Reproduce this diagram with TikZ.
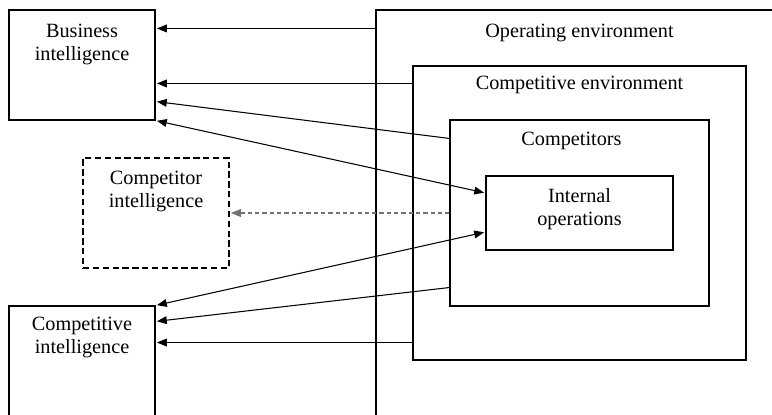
\documentclass[tikz,border=0pt]{standalone}
\usepackage{fontspec}
\setmainfont{Liberation Serif}
\usetikzlibrary{arrows.meta, positioning}

\begin{document}
\begin{tikzpicture}[
    every node/.style={font=\fontsize{14.4}{16.5}\selectfont},
    box/.style={draw,line width=0.75pt,inner sep=0pt},
    dbox/.style={box,dash pattern=on 4.5pt off 2.5pt},
    txt/.style={align=center,inner sep=0pt},
    arrow/.style={-{Triangle[length=7pt,width=5.5pt]}, line width=0.75pt, shorten >=1pt},
    darrow/.style={{Triangle[length=7pt,width=5.5pt]}-{Triangle[length=7pt,width=5.5pt]}, line width=0.75pt, shorten >=1pt, shorten <=1pt},
    dasharrow/.style={arrow, draw=black!55, dash pattern=on 3pt off 2.2pt}
]
\clip (0,0) rectangle (19.3,-10.375);
\node[box,minimum width=10.175cm,minimum height=10.75cm] (openv) at (14.4875,-5.625) {};
\node[box,minimum width=8.325cm,minimum height=7.35cm] (compenv) at (14.4875,-5.325) {};
\node[box,minimum width=6.475cm,minimum height=4.65cm] (comps) at (14.4875,-5.325) {};
\node[box,minimum width=4.675cm,minimum height=1.85cm] (intops) at (14.4875,-5.325) {};
\node[box,minimum width=3.65cm,minimum height=2.75cm] (bi) at (2.05,-1.625) {};
\node[dbox,minimum width=3.65cm,minimum height=2.75cm] (compi) at (3.9,-5.325) {};
\node[box,minimum width=3.65cm,minimum height=3.2cm] (ci) at (2.05,-9.25) {};
\node[txt, below=3.6mm of openv.north] (openvtxt) {Operating environment};
\node[txt, below=2.7mm of compenv.north] (compenvtxt) {Competitive environment};
\node[txt, below=3.2mm of comps.north, xshift=-2mm] (compstxt) {Competitors};
\node[txt, below=3.2mm of intops.north] (intopstxt) {Internal\\operations};
\node[txt, below=3.6mm of bi.north] (bitxt) {Business\\intelligence};
\node[txt, below=3.4mm of compi.north] (compitxt) {Competitor\\intelligence};
\node[txt, below=2.9mm of ci.north] (citxt) {Competitive\\intelligence};
\draw[arrow] ([yshift=-4.75mm]openv.north west) coordinate (a1) -- (a1 -| bi.east);
\draw[arrow] ([yshift=-4.5mm]compenv.north west) coordinate (a2) -- (a2 -| bi.east);
\draw[arrow] ([yshift=-4.75mm]comps.north west) -- ([yshift=-2.3cm]bi.north east);
\draw[darrow] (bi.south east) -- ([yshift=5mm]intops.west);
\draw[dasharrow] (comps.west) -- (compi.east);
\draw[darrow] (ci.north east) -- ([yshift=-4.75mm]intops.west);
\draw[arrow] ([yshift=4.75mm]comps.south west) -- ([yshift=-4mm]ci.north east);
\draw[arrow] ([yshift=4.5mm]compenv.south west) coordinate (a8) -- (a8 -| ci.east);
\end{tikzpicture}
\end{document}
